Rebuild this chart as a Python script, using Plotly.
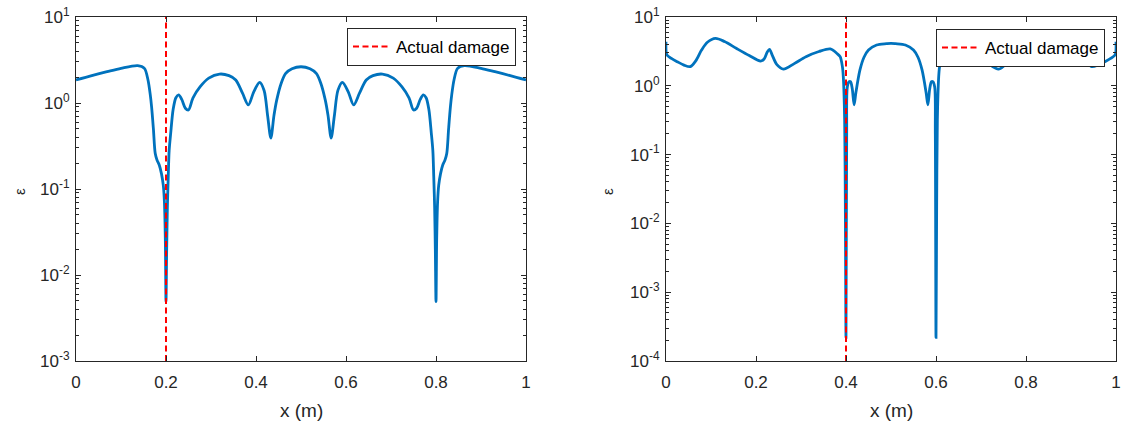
import plotly.graph_objects as go
import numpy as np

# ---------------- data ----------------
x_left = [0.000, 0.035, 0.069, 0.100, 0.137, 0.152, 0.160, 0.165, 0.168, 0.172, 0.176,
          0.180, 0.185, 0.190, 0.194, 0.1965, 0.1985, 0.200, 0.2015, 0.203, 0.205, 0.207,
          0.2105, 0.216, 0.222, 0.228, 0.235, 0.243, 0.250, 0.260, 0.276, 0.295, 0.319,
          0.340, 0.355, 0.370, 0.383, 0.395, 0.408, 0.418, 0.426, 0.433, 0.440, 0.446,
          0.456, 0.466, 0.480, 0.500, 0.520, 0.534, 0.544, 0.554, 0.560, 0.567, 0.574,
          0.582, 0.592, 0.605, 0.617, 0.630, 0.645, 0.660, 0.681, 0.705, 0.724, 0.740,
          0.750, 0.757, 0.765, 0.772, 0.778, 0.784, 0.7895, 0.793, 0.795, 0.797, 0.7985,
          0.800, 0.8015, 0.8035, 0.806, 0.810, 0.815, 0.820, 0.824, 0.828, 0.832, 0.835,
          0.840, 0.848, 0.863, 0.900, 0.931, 0.965, 1.000]
eps_left = [1.85, 2.08, 2.31, 2.53, 2.72, 2.53, 1.85, 1.25, 0.90, 0.50, 0.26,
            0.217, 0.19, 0.15, 0.11, 0.07, 0.026, 0.0049, 0.02, 0.06, 0.14, 0.28,
            0.45, 0.85, 1.15, 1.24, 1.10, 0.87, 0.83, 1.15, 1.55, 1.95, 2.17,
            2.08, 1.85, 1.30, 0.95, 1.35, 1.74, 1.40, 0.70, 0.39, 0.72, 1.08,
            1.70, 2.21, 2.50, 2.64, 2.50, 2.21, 1.70, 1.08, 0.72, 0.39, 0.70,
            1.40, 1.74, 1.35, 0.95, 1.30, 1.85, 2.08, 2.17, 1.95, 1.55, 1.15,
            0.83, 0.87, 1.10, 1.24, 1.15, 0.85, 0.45, 0.28, 0.14, 0.06, 0.02,
            0.0049, 0.026, 0.07, 0.11, 0.15, 0.19, 0.217, 0.26, 0.50, 0.90, 1.25,
            1.85, 2.53, 2.72, 2.53, 2.31, 2.08, 1.85]

x_right = [0.000, 0.002, 0.012, 0.025, 0.040, 0.054, 0.066, 0.079, 0.092, 0.110, 0.130,
           0.156, 0.185, 0.210, 0.218, 0.225, 0.230, 0.236, 0.246, 0.261, 0.285, 0.311,
           0.340, 0.365, 0.380, 0.387, 0.392, 0.394, 0.397, 0.3985, 0.400, 0.4015, 0.403,
           0.407, 0.410, 0.414, 0.418, 0.422, 0.431, 0.440, 0.450, 0.468, 0.490, 0.500,
           0.510, 0.532, 0.550, 0.560, 0.569, 0.578, 0.582, 0.586, 0.590, 0.593, 0.597,
           0.5985, 0.600, 0.6015, 0.603, 0.606, 0.608, 0.613, 0.620, 0.635, 0.660, 0.689,
           0.715, 0.739, 0.754, 0.764, 0.770, 0.775, 0.782, 0.790, 0.815, 0.844, 0.870,
           0.890, 0.908, 0.921, 0.934, 0.946, 0.960, 0.975, 0.988, 0.998, 1.000]
eps_right = [4.37, 2.81, 2.50, 2.24, 2.00, 1.90, 2.30, 3.31, 4.30, 4.90, 4.40,
             3.51, 2.75, 2.29, 2.45, 3.10, 3.39, 2.80, 2.05, 1.75, 2.10, 2.65,
             3.15, 3.43, 2.95, 2.65, 1.90, 1.36, 0.32, 0.02, 0.00022, 0.20, 0.97,
             1.15, 1.15, 0.90, 0.53, 0.80, 1.70, 2.60, 3.31, 3.92, 4.10, 4.15,
             4.10, 3.92, 3.31, 2.60, 1.70, 0.80, 0.53, 0.90, 1.15, 1.15, 0.97,
             0.20, 0.00022, 0.02, 0.32, 1.36, 1.90, 2.65, 2.95, 3.43, 3.15, 2.65,
             2.10, 1.75, 2.05, 2.80, 3.39, 3.10, 2.45, 2.29, 2.75, 3.51, 4.40,
             4.90, 4.30, 3.31, 2.30, 1.90, 2.00, 2.24, 2.50, 2.81, 4.37]

damage_left = 0.2
damage_right = 0.4
yrange_left = [1e-3, 1e1]
yrange_right = [1e-4, 1e1]

x_ticks = [0, 0.2, 0.4, 0.6, 0.8, 1]
x_ticktext = ["0", "0.2", "0.4", "0.6", "0.8", "1"]
exp_left = [-3, -2, -1, 0, 1]
exp_right = [-4, -3, -2, -1, 0, 1]
legend_label = "Actual damage"
x_title = "x (m)"
y_title = "ε"

# ---------------- style ----------------
W, H = 1125, 428
BLUE = "#0072BD"
AX = "#262626"
FONT = "Arial, Liberation Sans, Helvetica, sans-serif"

def px(p):   # page x pixel -> paper fraction
    return p / W

def py(p):   # page y pixel (from top) -> paper fraction
    return 1 - p / H

fig = go.Figure()

line_style = dict(color=BLUE, width=2.8, shape="spline", smoothing=0.85)
dash_style = dict(color="#FF0000", width=2, dash="6px,3.5px")

fig.add_trace(go.Scatter(x=x_left, y=eps_left, mode="lines", showlegend=False,
                         line=line_style, xaxis="x", yaxis="y"))
fig.add_trace(go.Scatter(x=[damage_left, damage_left], y=yrange_left, mode="lines",
                         name=legend_label, legend="legend", line=dash_style,
                         xaxis="x", yaxis="y"))
fig.add_trace(go.Scatter(x=x_right, y=eps_right, mode="lines", showlegend=False,
                         line=line_style, xaxis="x2", yaxis="y2"))
fig.add_trace(go.Scatter(x=[damage_right, damage_right], y=yrange_right, mode="lines",
                         name=legend_label, legend="legend2", line=dash_style,
                         xaxis="x2", yaxis="y2"))

def minor_vals(exps):
    vals = []
    for e in exps[:-1]:
        for m in range(2, 10):
            vals.append(m * 10.0 ** e)
    return vals

xdom_l = [px(76), px(526)]
xdom_r = [px(666), px(1116)]
ydom = [py(361), py(17)]

common_x = dict(range=[0, 1], tickvals=x_ticks, ticktext=x_ticktext, ticks="inside",
                ticklen=5, tickcolor=AX, showline=True, linecolor=AX, linewidth=1,
                mirror="ticks", showgrid=False, zeroline=False, automargin=False,
                ticklabelstandoff=6, ticklabeloverflow="allow",
                tickfont=dict(family=FONT, size=17, color=AX))

def yaxis_cfg(exps, anchor):
    return dict(type="log", range=[exps[0], exps[-1]], domain=ydom, anchor=anchor,
                tickvals=[10.0 ** e for e in exps],
                ticktext=["10<sup>%d</sup>" % e for e in exps],
                ticks="inside", ticklen=5, tickcolor=AX, showline=True, linecolor=AX,
                linewidth=1, mirror="ticks", showgrid=False, zeroline=False,
                automargin=False, ticklabelstandoff=2, ticklabeloverflow="allow",
                tickfont=dict(family=FONT, size=17, color=AX),
                minor=dict(tickvals=minor_vals(exps), ticks="inside", ticklen=3,
                           tickcolor=AX, showgrid=False))

legend_common = dict(xanchor="right", yanchor="top", bgcolor="white",
                     bordercolor=AX, borderwidth=1, itemwidth=38,
                     font=dict(family=FONT, size=17, color="black"))

ann_font = dict(family=FONT, size=19, color=AX)
eps_font = dict(family=FONT, size=15, color=AX)

fig.update_layout(
    width=W, height=H,
    margin=dict(l=0, r=0, t=0, b=0, autoexpand=False),
    paper_bgcolor="white", plot_bgcolor="white",
    xaxis=dict(domain=xdom_l, anchor="y", **common_x),
    xaxis2=dict(domain=xdom_r, anchor="y2", **common_x),
    yaxis=yaxis_cfg(exp_left, "x"),
    yaxis2=yaxis_cfg(exp_right, "x2"),
    legend=dict(x=px(516), y=py(28), **legend_common),
    legend2=dict(x=px(1105), y=py(29), **legend_common),
    annotations=[
        dict(text=x_title, x=px(301), y=py(410), xref="paper", yref="paper",
             showarrow=False, font=ann_font, xanchor="center", yanchor="middle"),
        dict(text=x_title, x=px(891), y=py(410), xref="paper", yref="paper",
             showarrow=False, font=ann_font, xanchor="center", yanchor="middle"),
        dict(text=y_title, x=px(19), y=py(192), xref="paper", yref="paper",
             showarrow=False, textangle=-90, font=eps_font,
             xanchor="center", yanchor="middle"),
        dict(text=y_title, x=px(607), y=py(192), xref="paper", yref="paper",
             showarrow=False, textangle=-90, font=eps_font,
             xanchor="center", yanchor="middle"),
    ],
)

# remove the default page margin so the figure sits at the window's top-left corner
fig.write_html("out.html",
               config={"displayModeBar": False, "staticPlot": True},
               post_script="document.body.style.margin='0px';"
                           "document.body.style.overflow='hidden';")
